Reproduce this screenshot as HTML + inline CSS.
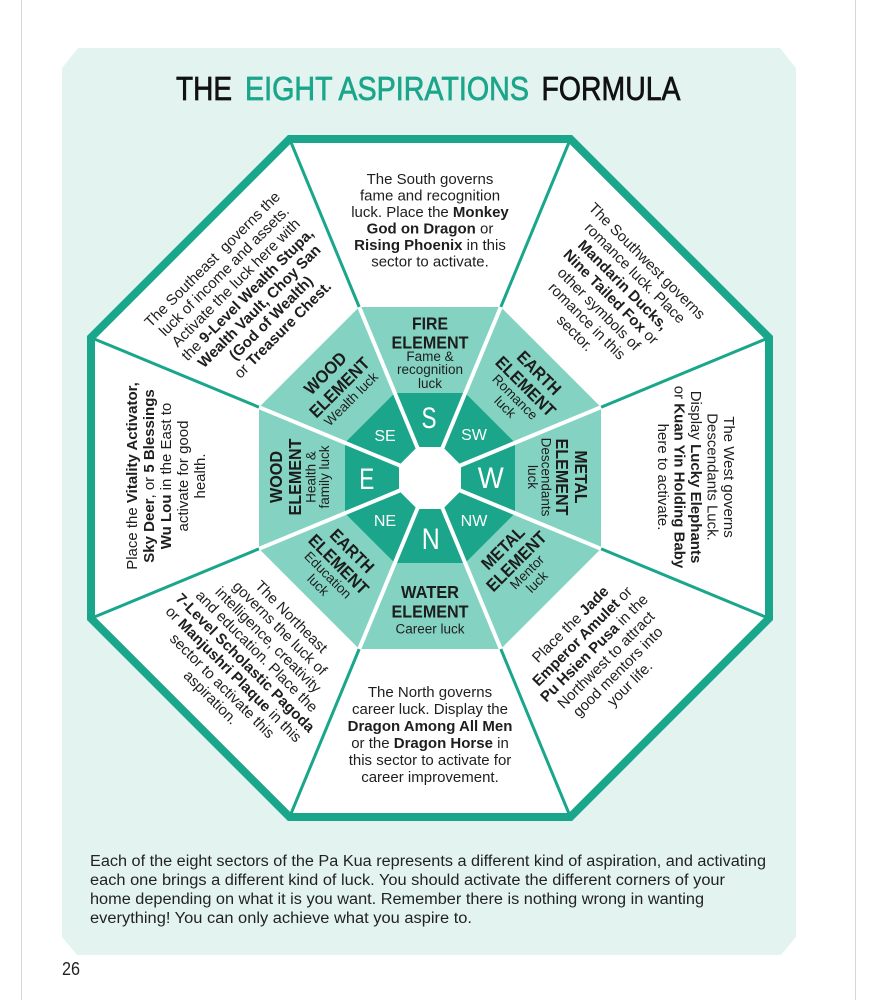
<!DOCTYPE html>
<html><head><meta charset="utf-8"><style>
html,body{margin:0;padding:0;background:#fff;}
svg{display:block;}
text{font-family:"Liberation Sans",Arial,sans-serif;}
.b{font-size:15px;fill:#1e1e1e;}
.cap{font-size:17.5px;font-weight:bold;fill:#1c1c1c;}
.sub{font-size:13.5px;fill:#1e1e1e;}
.dir{fill:#fff;}
</style></head><body>
<svg width="878" height="1000" viewBox="0 0 878 1000" xmlns="http://www.w3.org/2000/svg">
<rect width="878" height="1000" fill="#fff"/>
<line x1="21.5" y1="0" x2="21.5" y2="1000" stroke="#d6d6d6" stroke-width="1"/>
<line x1="855.5" y1="0" x2="855.5" y2="1000" stroke="#d6d6d6" stroke-width="1"/>
<polygon points="78,48 780,48 796,68 796,937 781,955 77,955 62,937 62,68" fill="#e3f4f0"/>

<!-- Title -->
<text x="176" y="100" font-size="33" fill="#111" stroke="#111" stroke-width="0.7" textLength="56" lengthAdjust="spacingAndGlyphs">THE</text>
<text x="245" y="100" font-size="33" fill="#1ba68b" stroke="#1ba68b" stroke-width="0.7" textLength="284" lengthAdjust="spacingAndGlyphs">EIGHT ASPIRATIONS</text>
<text x="541.5" y="100" font-size="33" fill="#111" stroke="#111" stroke-width="0.7" textLength="139" lengthAdjust="spacingAndGlyphs">FORMULA</text>

<!-- Outer octagon -->
<polygon points="289.6,139 570.4,139 769,337.6 769,618.4 570.4,817 289.6,817 91,618.4 91,337.6" fill="#fff" stroke="#19a68b" stroke-width="8" stroke-linejoin="miter"/>
<g stroke="#19a68b" stroke-width="3">
<line x1="359.2" y1="307" x2="289.6" y2="139"/>
<line x1="500.8" y1="307" x2="570.4" y2="139"/>
<line x1="601" y1="407.2" x2="769" y2="337.6"/>
<line x1="601" y1="548.8" x2="769" y2="618.4"/>
<line x1="500.8" y1="649" x2="570.4" y2="817"/>
<line x1="359.2" y1="649" x2="289.6" y2="817"/>
<line x1="259" y1="548.8" x2="91" y2="618.4"/>
<line x1="259" y1="407.2" x2="91" y2="337.6"/>
</g>
<polygon points="359.2,307 500.8,307 601,407.2 601,548.8 500.8,649 359.2,649 259,548.8 259,407.2" fill="#84d3c2"/>
<polygon points="394.8,393 465.2,393 515,442.8 515,513.2 465.2,563 394.8,563 345,513.2 345,442.8" fill="#1ba58b"/>
<g stroke="#fff" stroke-width="4">
<line x1="430" y1="478" x2="359.2" y2="307"/>
<line x1="430" y1="478" x2="500.8" y2="307"/>
<line x1="430" y1="478" x2="601" y2="407.2"/>
<line x1="430" y1="478" x2="601" y2="548.8"/>
<line x1="430" y1="478" x2="500.8" y2="649"/>
<line x1="430" y1="478" x2="359.2" y2="649"/>
<line x1="430" y1="478" x2="259" y2="548.8"/>
<line x1="430" y1="478" x2="259" y2="407.2"/>
</g>
<polygon points="417.2,447 442.8,447 461,465.2 461,490.8 442.8,509 417.2,509 399,490.8 399,465.2" fill="#fff"/>

<!-- Direction letters -->
<g class="dir" text-anchor="middle">
<text x="429" y="428" font-size="30" textLength="15" lengthAdjust="spacingAndGlyphs">S</text>
<text x="490.7" y="488" font-size="30" textLength="26" lengthAdjust="spacingAndGlyphs">W</text>
<text x="430.7" y="549" font-size="30" textLength="18" lengthAdjust="spacingAndGlyphs">N</text>
<text x="366.7" y="489" font-size="30" textLength="15" lengthAdjust="spacingAndGlyphs">E</text>
<text x="385" y="441" font-size="16">SE</text>
<text x="474" y="440" font-size="16">SW</text>
<text x="385" y="526" font-size="16">NE</text>
<text x="474" y="526" font-size="16">NW</text>
</g>

<!-- Middle ring labels -->
<g text-anchor="middle">
<text class="cap" x="430" y="329.5" textLength="36" lengthAdjust="spacingAndGlyphs">FIRE</text>
<text class="cap" x="430" y="348.5" textLength="77" lengthAdjust="spacingAndGlyphs">ELEMENT</text>
<text class="sub" x="430" y="361">Fame &amp;</text>
<text class="sub" x="430" y="374">recognition</text>
<text class="sub" x="430" y="388">luck</text>
<text class="cap" x="430" y="598" textLength="58" lengthAdjust="spacingAndGlyphs">WATER</text>
<text class="cap" x="430" y="617.5" textLength="77" lengthAdjust="spacingAndGlyphs">ELEMENT</text>
<text class="sub" x="430" y="633.5">Career luck</text>
<g transform="translate(522,390) rotate(45)">
<text class="cap" x="0" y="-18.2" textLength="54" lengthAdjust="spacingAndGlyphs">EARTH</text>
<text class="cap" x="0" y="0.8" textLength="77" lengthAdjust="spacingAndGlyphs">ELEMENT</text>
<text class="sub" x="0" y="14.5">Romance</text>
<text class="sub" x="0" y="28.5">luck</text>
</g>
<g transform="translate(557,477) rotate(90)">
<text class="cap" x="0" y="-18.2" textLength="53" lengthAdjust="spacingAndGlyphs">METAL</text>
<text class="cap" x="0" y="0.8" textLength="77" lengthAdjust="spacingAndGlyphs">ELEMENT</text>
<text class="sub" x="0" y="15.5">Descendants</text>
<text class="sub" x="0" y="29">luck</text>
</g>
<g transform="translate(520,565) rotate(-45)">
<text class="cap" x="0" y="-18.2" textLength="53" lengthAdjust="spacingAndGlyphs">METAL</text>
<text class="cap" x="0" y="0.8" textLength="77" lengthAdjust="spacingAndGlyphs">ELEMENT</text>
<text class="sub" x="0" y="14.5">Mentor</text>
<text class="sub" x="0" y="28.5">luck</text>
</g>
<g transform="translate(335,568) rotate(45)">
<text class="cap" x="0" y="-18.2" textLength="54" lengthAdjust="spacingAndGlyphs">EARTH</text>
<text class="cap" x="0" y="0.8" textLength="77" lengthAdjust="spacingAndGlyphs">ELEMENT</text>
<text class="sub" x="0" y="14.5">Education</text>
<text class="sub" x="0" y="28.5">luck</text>
</g>
<g transform="translate(300,477) rotate(-90)">
<text class="cap" x="0" y="-18.2" textLength="52" lengthAdjust="spacingAndGlyphs">WOOD</text>
<text class="cap" x="0" y="0.8" textLength="77" lengthAdjust="spacingAndGlyphs">ELEMENT</text>
<text class="sub" x="0" y="15.5">Health &amp;</text>
<text class="sub" x="0" y="29">family luck</text>
</g>
<g transform="translate(338,386) rotate(-45)">
<text class="cap" x="0" y="-12" textLength="52" lengthAdjust="spacingAndGlyphs">WOOD</text>
<text class="cap" x="0" y="8" textLength="77" lengthAdjust="spacingAndGlyphs">ELEMENT</text>
<text class="sub" x="0" y="23">Wealth luck</text>
</g>
</g>

<!-- Outer texts -->
<g class="b" text-anchor="middle">
<g transform="translate(430,220)">
<text y="-36.25">The South governs</text>
<text y="-19.75">fame and recognition</text>
<text y="-3.25">luck. Place the <tspan font-weight="bold">Monkey</tspan></text>
<text y="13.25"><tspan font-weight="bold">God on Dragon</tspan> or</text>
<text y="29.75"><tspan font-weight="bold">Rising Phoenix</tspan> in this</text>
<text y="46.25">sector to activate.</text>
</g>
<g transform="translate(611,297) rotate(45)">
<text y="-46">The Southwest governs</text>
<text y="-29">romance luck. Place</text>
<text y="-12" font-weight="bold">Mandarin Ducks,</text>
<text y="5"><tspan font-weight="bold">Nine Tailed Fox</tspan> or</text>
<text y="22">other symbols of</text>
<text y="39">romance in this</text>
<text y="56">sector.</text>
</g>
<g transform="translate(696,477) rotate(90)">
<text y="-28">The West governs</text>
<text y="-11.5">Descendants Luck.</text>
<text y="5">Display <tspan font-weight="bold">Lucky Elephants</tspan></text>
<text y="21.5">or <tspan font-weight="bold">Kuan Yin Holding Baby</tspan></text>
<text y="38">here to activate.</text>
</g>
<g transform="translate(600,654) rotate(-45)">
<text y="-37">Place the <tspan font-weight="bold">Jade</tspan></text>
<text y="-20.2"><tspan font-weight="bold">Emperor Amulet</tspan> or</text>
<text y="-3.4"><tspan font-weight="bold">Pu Hsien Pusa</tspan> in the</text>
<text y="13.4">Northwest to attract</text>
<text y="30.2">good mentors into</text>
<text y="47">your life.</text>
</g>
<g transform="translate(430,734.5)">
<text y="-37.5">The North governs</text>
<text y="-20.5">career luck. Display the</text>
<text y="-3.5" font-weight="bold">Dragon Among All Men</text>
<text y="13.5">or the <tspan font-weight="bold">Dragon Horse</tspan> in</text>
<text y="30.5">this sector to activate for</text>
<text y="47.5">career improvement.</text>
</g>
<g transform="translate(251,657) rotate(45)">
<text y="-52.05">The Northeast</text>
<text y="-35.75">governs the luck of</text>
<text y="-19.45">intelligence, creativity</text>
<text y="-3.15">and education. Place the</text>
<text y="13.15" font-weight="bold">7-Level Scholastic Pagoda</text>
<text y="29.45">or <tspan font-weight="bold">Manjushri Plaque</tspan> in this</text>
<text y="45.75">sector to activate this</text>
<text y="62.05">aspiration.</text>
</g>
<g transform="translate(166,476) rotate(-90)">
<text y="-29">Place the <tspan font-weight="bold">Vitality Activator,</tspan></text>
<text y="-12"><tspan font-weight="bold">Sky Deer</tspan>, or <tspan font-weight="bold">5 Blessings</tspan></text>
<text y="5"><tspan font-weight="bold">Wu Lou</tspan> in the East to</text>
<text y="22">activate for good</text>
<text y="39">health.</text>
</g>
<g transform="translate(247.5,294.5) rotate(-45)">
<text y="-44.8" xml:space="preserve">The Southeast  governs the</text>
<text y="-28.2">luck of income and assets.</text>
<text y="-11.6">Activate the luck here with</text>
<text y="5">the <tspan font-weight="bold">9-Level Wealth Stupa,</tspan></text>
<text y="21.6" font-weight="bold">Wealth Vault, Choy San</text>
<text y="38.2" font-weight="bold">(God of Wealth)</text>
<text y="54.8">or <tspan font-weight="bold">Treasure Chest.</tspan></text>
</g>
</g>

<!-- Paragraph -->
<g font-size="15.5" fill="#222">
<text x="90" y="866" textLength="676" lengthAdjust="spacingAndGlyphs">Each of the eight sectors of the Pa Kua represents a different kind of aspiration, and activating</text>
<text x="90" y="885" textLength="635" lengthAdjust="spacingAndGlyphs">each one brings a different kind of luck. You should activate the different corners of your</text>
<text x="90" y="904" textLength="614" lengthAdjust="spacingAndGlyphs">home depending on what it is you want. Remember there is nothing wrong in wanting</text>
<text x="90" y="923" textLength="382" lengthAdjust="spacingAndGlyphs">everything! You can only achieve what you aspire to.</text>
</g>
<text x="62" y="975" font-size="18" fill="#222" textLength="18" lengthAdjust="spacingAndGlyphs">26</text>
</svg>
</body></html>
